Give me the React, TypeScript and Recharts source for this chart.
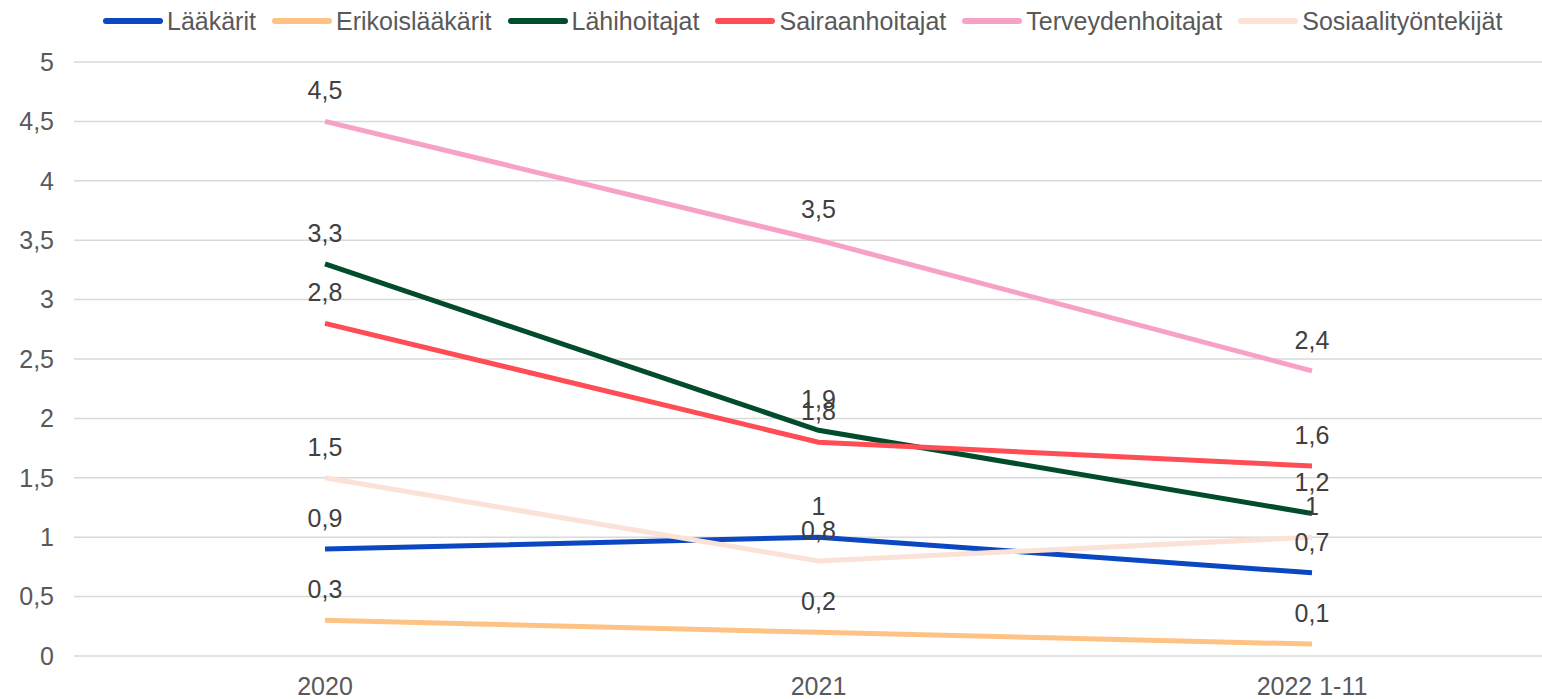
import React from 'react';
import { LineChart, Line, XAxis, YAxis, CartesianGrid, Legend, LabelList } from 'recharts';

const years = ['2020', '2021', '2022 1-11'];
const laakarit = [0.9, 1, 0.7];
const erikoislaakarit = [0.3, 0.2, 0.1];
const lahihoitajat = [3.3, 1.9, 1.2];
const sairaanhoitajat = [2.8, 1.8, 1.6];
const terveydenhoitajat = [4.5, 3.5, 2.4];
const sosiaalityontekijat = [1.5, 0.8, 1];
const yTicks = [0, 0.5, 1, 1.5, 2, 2.5, 3, 3.5, 4, 4.5, 5];

const series = [
    { key: 'Lääkärit', values: laakarit, color: '#0a47c0' },
    { key: 'Erikoislääkärit', values: erikoislaakarit, color: '#ffc285' },
    { key: 'Lähihoitajat', values: lahihoitajat, color: '#004c2b' },
    { key: 'Sairaanhoitajat', values: sairaanhoitajat, color: '#ff4c55' },
    { key: 'Terveydenhoitajat', values: terveydenhoitajat, color: '#f7a1c6' },
    { key: 'Sosiaalityöntekijät', values: sosiaalityontekijat, color: '#fbe1d6' },
];

const data = years.map((y, i) => {
    const row: Record<string, string | number> = { year: y };
    series.forEach(s => { row[s.key] = s.values[i]; });
    return row;
});

const fmt = (v: any) => String(v).replace('.', ',');
const font = '"Liberation Sans", Arial, sans-serif';

const LegendBox = () => (
    <div style={{ display: 'flex', alignItems: 'center', paddingLeft: 103, fontFamily: font, fontSize: 25, color: '#595959', lineHeight: '30px' }}>
        {series.map(s => (
            <div key={s.key} style={{ display: 'flex', alignItems: 'center', marginRight: 16 }}>
                <div style={{ width: 60, height: 6, borderRadius: 3, background: s.color, marginRight: 4 }} />
                <span>{s.key}</span>
            </div>
        ))}
    </div>
);

export default function App() {
    return (
        <div style={{ width: 1542, height: 699, overflow: 'hidden', background: '#fff', position: 'relative' }}>
            <style>{'body{margin:0;overflow:hidden}'}</style>
            <LineChart width={1563} height={699} data={data} margin={{ top: 62, right: 0, bottom: 0, left: 0 }}>
                <CartesianGrid vertical={false} stroke="#d9d9d9" strokeWidth={1.5} />
                <XAxis
                    dataKey="year"
                    axisLine={false}
                    tickLine={false}
                    height={43}
                    padding={{ left: 251, right: 251 }}
                    tick={{ fontSize: 25, fill: '#595959', fontFamily: font }}
                    tickMargin={15}
                />
                <YAxis
                    domain={[0, 5]}
                    ticks={yTicks}
                    width={74}
                    axisLine={false}
                    tickLine={false}
                    tickMargin={14}
                    tickFormatter={fmt}
                    tick={{ fontSize: 25, fill: '#595959', fontFamily: font }}
                />
                <Legend
                    verticalAlign="middle"
                    align="center"
                    content={<LegendBox />}
                    wrapperStyle={{ top: 6, left: 0, width: 1542, height: 30 }}
                />
                {series.map(s => (
                    <Line
                        key={s.key}
                        type="linear"
                        dataKey={s.key}
                        stroke={s.color}
                        strokeWidth={5}
                        dot={false}
                        isAnimationActive={false}
                    >
                        <LabelList
                            dataKey={s.key}
                            position="top"
                            offset={22}
                            formatter={fmt}
                            style={{ fontSize: 25, fill: '#404040', fontFamily: font }}
                        />
                    </Line>
                ))}
            </LineChart>
        </div>
    );
}
